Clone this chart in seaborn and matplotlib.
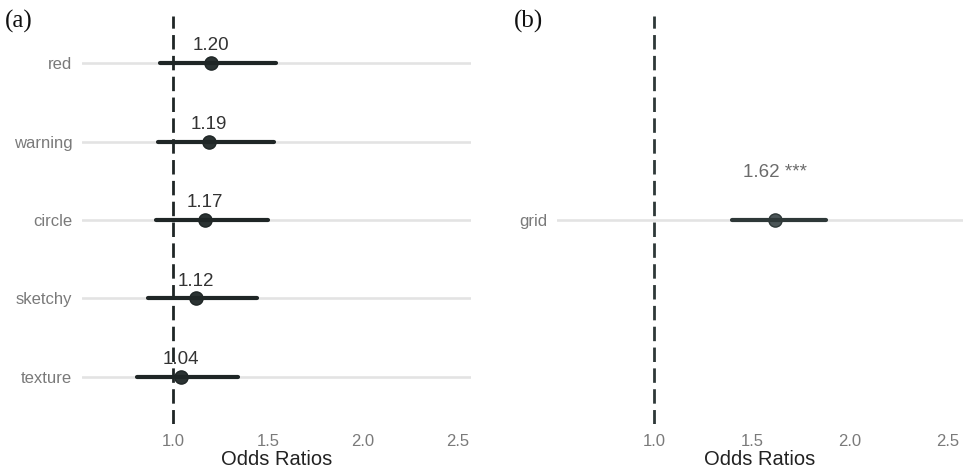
import numpy as np
import pandas as pd
import matplotlib
matplotlib.use('Agg')
import matplotlib.pyplot as plt
import seaborn as sns

# panel (a)
terms_a = ['red', 'warning', 'circle', 'sketchy', 'texture']
or_a = [1.20, 1.19, 1.17, 1.12, 1.04]
lo_a = [0.93, 0.92, 0.91, 0.87, 0.81]
hi_a = [1.54, 1.53, 1.50, 1.44, 1.34]
sig_a = ['', '', '', '', '']

# panel (b)
terms_b = ['grid']
or_b = [1.62]
lo_b = [1.40]
hi_b = [1.88]
sig_b = ['***']

x_ticks = [1.0, 1.5, 2.0, 2.5]

sns.set_theme(style='white')
plt.rcParams['font.family'] = ['Liberation Sans', 'DejaVu Sans']


def long_frame(terms, est, lo, hi):
    # three values per term: median -> estimate, 100% interval -> CI
    rows = []
    for t, e, l, h in zip(terms, est, lo, hi):
        for v in (l, e, h):
            rows.append({'term': t, 'value': v})
    return pd.DataFrame(rows)


def forest(ax, terms, est, lo, hi, sig, color, edge, text_color, label_off, xlim):
    df = long_frame(terms, est, lo, hi)
    ax.axvline(1.0, color=edge, lw=2.0, linestyle=(0, (5.2, 2.3)), zorder=1)
    sns.pointplot(data=df, x='value', y='term', order=terms,
                  estimator='median', errorbar=('pi', 100),
                  linestyle='none', color=color, markersize=9.5,
                  markeredgecolor=edge, markeredgewidth=1.0,
                  err_kws={'linewidth': 3.0, 'color': edge}, ax=ax)
    for i, (e, s) in enumerate(zip(est, sig)):
        txt = f'{e:.2f}' + (f' {s}' if s else '')
        ax.annotate(txt, (e, i), xytext=(0, label_off), textcoords='offset points',
                    ha='center', va='center', fontsize=13.5, color=text_color)
    ax.set_xlim(*xlim)
    ax.set_ylim(len(terms) - 0.4, -0.6)
    ax.set_xticks(x_ticks)
    ax.set_xticklabels([f'{t:.1f}' for t in x_ticks])
    ax.grid(axis='y', color='#e3e3e3', lw=1.9, zorder=0)
    ax.grid(axis='x', visible=False)
    ax.set_axisbelow(True)
    ax.tick_params(axis='both', length=0, labelsize=12, labelcolor='#7a7a7a')
    ax.tick_params(axis='y', pad=7)
    ax.tick_params(axis='x', pad=7)
    ax.set_ylabel('')
    ax.set_xlabel('Odds Ratios', fontsize=14.5, color='#222222', labelpad=1)
    sns.despine(ax=ax, left=True, bottom=True)


fig = plt.figure(figsize=(9.63, 4.70), dpi=100)
ax_a = fig.add_axes([82 / 963, 1 - 424 / 470, 389 / 963, 408 / 470])
ax_b = fig.add_axes([557 / 963, 1 - 424 / 470, 406 / 963, 408 / 470])

forest(ax_a, terms_a, or_a, lo_a, hi_a, sig_a, '#2b3333', '#1f2626', '#333333', 12.5,
       (0.521, 2.568))
forest(ax_b, terms_b, or_b, lo_b, hi_b, sig_b, '#4b5557', '#2e3838', '#6b6b6b', 34,
       (0.505, 2.577))

fig.text(5 / 963, 1 - 21 / 470, '(a)', family='Liberation Serif', fontsize=18,
         va='center', ha='left', color='#111111')
fig.text(514 / 963, 1 - 21 / 470, '(b)', family='Liberation Serif', fontsize=18,
         va='center', ha='left', color='#111111')

fig.savefig('out.png', dpi=100)
